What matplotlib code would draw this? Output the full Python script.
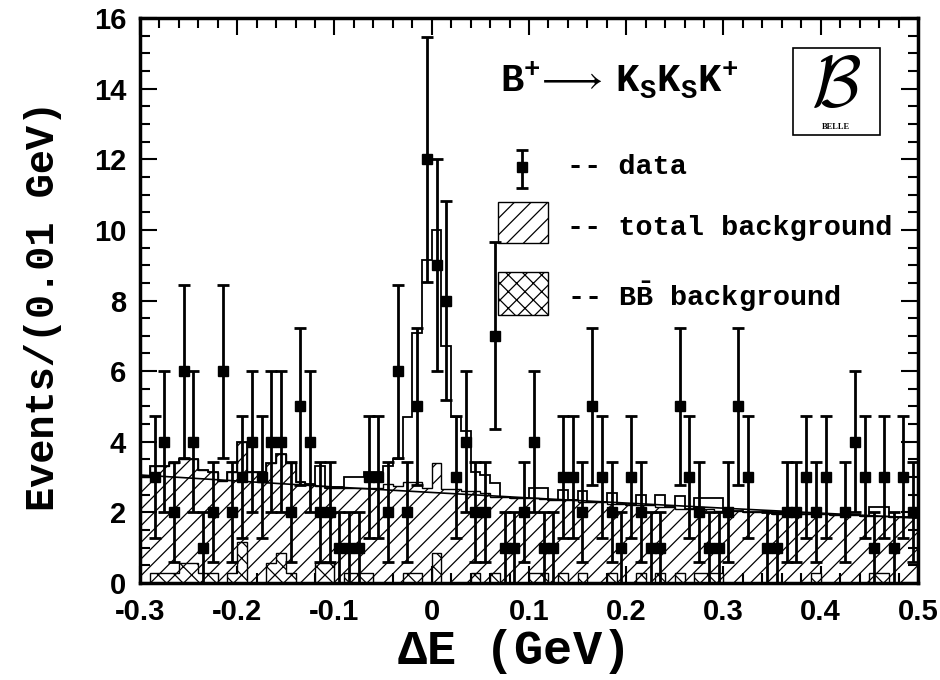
import numpy as np
import matplotlib.pyplot as plt
from matplotlib.patches import Rectangle

plt.rcParams['mathtext.fontset'] = 'custom'
plt.rcParams['mathtext.rm'] = 'Liberation Mono:bold'
plt.rcParams['mathtext.it'] = 'Liberation Mono:bold'
plt.rcParams['mathtext.bf'] = 'Liberation Mono:bold'
plt.rcParams['mathtext.default'] = 'regular'
plt.rcParams['hatch.linewidth'] = 0.9

# 0.01 GeV bins from -0.3 to 0.5
edges = np.round(np.linspace(-0.3, 0.5, 81), 3)
centers = 0.5 * (edges[:-1] + edges[1:])

# events per bin (data)
data = [0, 3, 4, 2, 6, 4, 1, 2, 6, 2, 3, 4, 3, 4, 4, 2, 5, 4, 2, 2,
        1, 1, 1, 3, 3, 2, 6, 2, 5, 12, 9, 8, 3, 4, 2, 2, 7, 1, 1, 2,
        4, 1, 1, 3, 3, 2, 5, 3, 2, 1, 3, 2, 1, 1, 0, 5, 3, 2, 1, 1,
        2, 5, 3, 0, 1, 1, 2, 2, 3, 2, 3, 0, 2, 4, 3, 1, 3, 1, 3, 2]

# total background (hatched)
bkg_total = [3.0, 3.3, 3.3, 3.4, 3.5, 3.5, 3.2, 3.15, 2.9, 3.15, 4.0, 3.15, 3.15, 3.4, 3.65, 3.4, 2.85, 2.8, 2.75, 2.7,
             2.7, 2.7, 2.7, 2.7, 2.7, 2.8, 2.75, 2.87, 2.87, 2.7, 3.4, 2.65, 2.65, 2.6, 2.6, 2.55, 2.45, 2.45, 2.4, 2.4,
             2.4, 2.38, 2.35, 2.35, 2.35, 2.3, 2.3, 2.3, 2.25, 2.25, 2.2, 2.2, 2.2, 2.15, 2.15, 2.1, 2.1, 2.1, 2.1, 2.05,
             2.05, 2.05, 2.0, 2.0, 2.0, 1.95, 1.95, 1.95, 1.95, 1.95, 1.95, 1.93, 1.93, 1.93, 1.9, 1.9, 1.9, 1.88, 1.88, 1.88]

# signal + background MC (open histogram)
mc_total = [3.0, 3.3, 3.3, 3.4, 3.5, 3.5, 3.2, 3.15, 2.9, 3.15, 4.0, 3.15, 3.15, 3.4, 3.65, 3.4, 2.85, 2.8, 3.3, 2.7,
            2.73, 3.0, 3.0, 3.15, 3.15, 3.3, 3.5, 4.7, 7.07, 9.15, 10.0, 6.7, 4.7, 4.3, 3.15, 3.06, 2.83, 2.45, 2.4, 2.4,
            2.68, 2.68, 2.35, 2.63, 2.35, 2.6, 2.3, 2.3, 2.55, 2.25, 2.2, 2.5, 2.2, 2.5, 2.15, 2.47, 2.1, 2.4, 2.4, 2.4,
            2.05, 2.05, 2.0, 2.0, 2.0, 1.95, 1.95, 1.95, 1.95, 1.95, 1.95, 1.93, 1.93, 1.93, 1.9, 2.14, 2.14, 1.88, 1.88, 1.88]

# BBbar background (cross-hatched)
bkg_bb = [0, 0.28, 0.28, 0.28, 0.56, 0.56, 0.28, 0.28, 0, 0.28, 1.15, 0, 0, 0.56, 0.84, 0.28, 0, 0, 0.56, 0.56,
          0, 0.28, 0.28, 0.28, 0, 0, 0, 0.28, 0.28, 0, 0.86, 0, 0, 0, 0.28, 0, 0.28, 0, 0, 0,
          0.28, 0.28, 0, 0.28, 0, 0.28, 0, 0, 0.28, 0, 0, 0.28, 0, 0.28, 0, 0.28, 0, 0.28, 0.28, 0.28,
          0, 0, 0, 0, 0, 0, 0, 0, 0, 0.28, 0, 0, 0, 0, 0, 0.28, 0.28, 0, 0, 0]

# background fit line
fit_x = [-0.3, -0.1, 0.1, 0.3, 0.5]
fit_y = [3.06, 2.72, 2.41, 2.12, 1.84]

data = np.array(data, dtype=float)

fig = plt.figure(figsize=(9.4, 6.8), dpi=100)
ax = fig.add_axes([0.1489, 0.1426, 0.8277, 0.8309])

ax.stairs(bkg_total, edges, fill=True, facecolor='white', edgecolor='black',
          hatch='//', linewidth=1.0, zorder=1)
ax.stairs(bkg_bb, edges, fill=True, facecolor='white', edgecolor='black',
          hatch='xx', linewidth=1.0, zorder=2)
ax.stairs(mc_total, edges, color='black', linewidth=1.3, zorder=3)
ax.plot(fit_x, fit_y, color='black', linewidth=1.2, zorder=4)

m = data > 0
ax.errorbar(centers[m], data[m], yerr=np.sqrt(data[m]), fmt='s', color='black',
            ms=7, elinewidth=2, capsize=4, capthick=2, zorder=5, clip_on=True)

ax.set_xlim(-0.3, 0.5)
ax.set_ylim(0, 16)
ax.set_xticks(np.arange(-0.3, 0.51, 0.1))
ax.set_xticklabels(['-0.3', '-0.2', '-0.1', '0', '0.1', '0.2', '0.3', '0.4', '0.5'])
ax.set_xticks(np.arange(-0.3, 0.501, 0.02), minor=True)
ax.set_yticks(np.arange(0, 17, 2))
ax.set_yticks(np.arange(0, 16.01, 0.5), minor=True)
ax.tick_params(which='both', direction='in', top=True, right=True, width=1.5)
ax.tick_params(which='major', length=12)
ax.tick_params(which='minor', length=7)
ax.tick_params(axis='x', which='major', pad=11)
ax.tick_params(axis='y', which='major', pad=10)
for lab in ax.get_xticklabels() + ax.get_yticklabels():
    lab.set_fontfamily('Liberation Sans')
    lab.set_fontweight('bold')
    lab.set_fontsize(21)
for s in ax.spines.values():
    s.set_linewidth(2.5)

ax.set_xlabel(r'$\Delta$E (GeV)', fontfamily='Liberation Mono', fontweight='bold', fontsize=35)
ax.xaxis.set_label_coords(0.476, -0.077)
ax.set_ylabel('Events/(0.01 GeV)', fontfamily='Liberation Mono', fontweight='bold', fontsize=29)
ax.yaxis.set_label_coords(-0.1, 0.49)

# decay label and legend
mono = dict(fontfamily='Liberation Mono', fontweight='bold', transform=ax.transAxes)
ax.text(0.463, 0.89, r'$B^{+}\!\longrightarrow\ K_{S}K_{S}K^{+}$', fontsize=28, va='center', **mono)
ax.text(0.549, 0.736, '-- data', fontsize=20.5, va='center', **mono)
ax.text(0.549, 0.628, '-- total background', fontsize=20.5, va='center', **mono)
ax.text(0.549, 0.506, r'-- B$\bar{B}$ background', fontsize=20.5, va='center', **mono)
ax.errorbar([0.491], [0.736], yerr=[[0.037], [0.03]], fmt='s', color='black', ms=7,
            elinewidth=2, capsize=4, capthick=2, transform=ax.transAxes)
ax.add_patch(Rectangle((0.460, 0.602), 0.064, 0.072, transform=ax.transAxes,
                       facecolor='white', edgecolor='black', hatch='//', linewidth=1))
ax.add_patch(Rectangle((0.460, 0.474), 0.064, 0.076, transform=ax.transAxes,
                       facecolor='white', edgecolor='black', hatch='xx', linewidth=1))

# Belle logo
ax.add_patch(Rectangle((0.839, 0.793), 0.112, 0.154, transform=ax.transAxes,
                       facecolor='white', edgecolor='black', linewidth=1.2, zorder=6))
ax.text(0.895, 0.878, r'$\mathcal{B}$', math_fontfamily='cm', fontsize=52,
        ha='center', va='center', transform=ax.transAxes, zorder=7)
ax.text(0.895, 0.808, 'BELLE', fontfamily='Liberation Serif', fontweight='bold', fontsize=6,
        ha='center', va='center', transform=ax.transAxes, zorder=7)

fig.savefig('out.png', dpi=100)
